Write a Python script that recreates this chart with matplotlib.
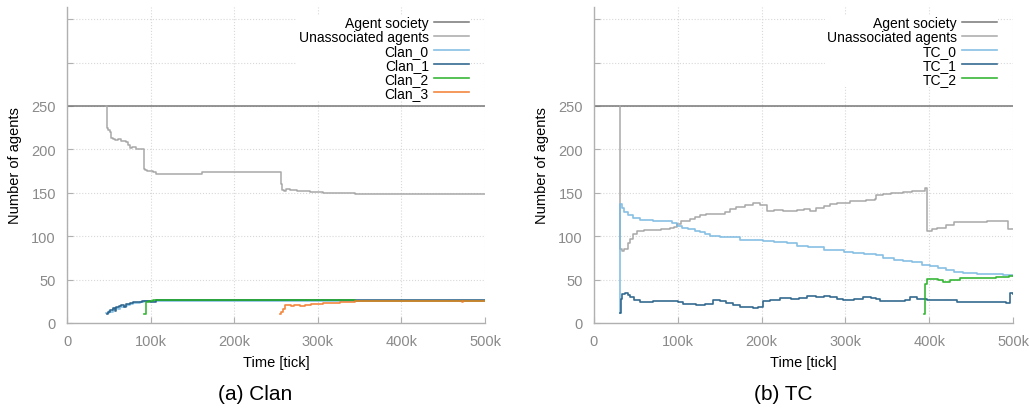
import numpy as np
import matplotlib
matplotlib.use("Agg")
import matplotlib.pyplot as plt
from matplotlib.ticker import FuncFormatter

plt.rcParams['font.family'] = ['Liberation Sans', 'DejaVu Sans']

# time in thousands of ticks, values = number of agents
society_t = [0, 500]
society_v = [250, 250]

# --- Clan run ---
clan_unassoc_t = [46.6, 47.5, 48, 49, 51.4, 53, 55, 58, 61, 64, 67, 70, 73, 75, 78, 82, 86,
                  92.5, 93, 96, 99, 103, 107, 111, 161, 255.6, 257, 259.6, 262, 266.7, 275,
                  285, 290.7, 298, 306.6, 320, 330, 344.5, 500]
clan_unassoc_v = [250, 237, 225, 222, 219.7, 213, 212, 211, 212, 210, 210, 208, 205, 202, 203,
                  201, 200, 177, 176, 175, 175.5, 174, 172, 171.7, 173.6, 160, 153, 152, 154,
                  153, 152.4, 152, 151, 150.6, 150, 150, 149.8, 149, 149]

clan0_t = [47, 50, 52, 55, 58, 61, 63, 66, 68, 72, 75, 79, 82, 87, 92, 100, 120, 500]
clan0_v = [12, 14, 13, 16, 17, 16, 18, 19, 20, 21, 22, 23, 23.5, 24.5, 25, 25.5, 25.8, 25.8]

clan1_t = [47.5, 49, 51, 55, 57, 59, 62, 65, 68, 71, 75, 79, 90, 99, 107, 115, 162, 163, 500]
clan1_v = [10, 13, 15, 17, 14, 18, 20, 21, 19, 22, 23, 24.5, 25, 24.5, 26, 26.8, 26.8, 26.3, 26.3]

clan2_t = [92.5, 94, 98, 103, 115, 120, 345, 500]
clan2_v = [10, 24, 25, 27, 26.5, 26, 25, 25]

clan3_t = [254.8, 256, 258, 260.8, 264, 268, 272, 278.7, 285, 292, 300, 306.6, 315, 326.6,
           335, 344.5, 473, 474, 500]
clan3_v = [10.4, 13, 16, 20.7, 21, 20, 21, 20, 21, 21.5, 22, 22.7, 23, 23.8, 24.5, 25, 24,
           25, 25]

# --- TC run ---
tc_unassoc_t = [30.5, 31, 33, 36, 40, 43, 47, 51, 60, 67, 80, 91, 95, 99, 104, 110, 115, 120,
                126, 134, 142, 150, 156, 162, 170, 180, 190, 198, 206, 215, 225, 242, 250,
                258, 265, 275, 282, 290, 305, 315, 325, 335, 337, 345, 355, 369, 380, 395,
                397, 403, 409, 420, 429, 449, 469, 490, 494, 500]
tc_unassoc_v = [250, 85, 83, 85, 92, 97, 103, 105.6, 107, 107, 108, 109, 111, 114, 117, 118,
                120, 122, 124, 126, 125, 126, 128, 131, 134, 136, 138, 136, 128.6, 130, 129,
                130.5, 131, 128.6, 132, 135, 137, 138, 140, 140, 142, 143, 148, 149, 150, 151,
                152, 155, 106, 108, 110, 113, 116, 116, 117, 118, 108, 108]

tc0_t = [31, 31.5, 33, 36, 40, 46.5, 55, 70, 87, 93, 99, 105, 112, 120, 126, 132, 138, 150,
         162, 174, 190, 202, 215, 230, 242, 255, 265, 274, 285, 298, 309, 322, 337, 345, 358,
         369, 380, 392, 401, 410, 420, 429, 440, 457, 470, 488, 500]
tc0_v = [12, 137, 133, 128, 124, 121, 119, 118, 117, 115, 112, 110, 108, 106, 105, 103, 100.6,
         99, 98.7, 96, 95.5, 95, 93, 92, 89, 88, 87, 84, 84, 82, 80.6, 80, 78, 74.5, 73, 71.8,
         70, 67, 65.3, 63, 61, 59, 58, 56.5, 56, 55.3, 54.5]

tc1_t = [31, 32, 34, 37, 40, 43, 48, 55, 70, 87, 100, 106, 114, 122, 132, 142, 150, 158, 166,
         174, 182, 190, 196, 202, 210, 222, 235, 245, 254, 265, 275, 282, 290, 297, 310, 321,
         330, 337, 341, 365, 371, 377, 385, 397, 425, 433, 461, 492, 496, 500]
tc1_v = [12, 28, 33, 35, 32, 30, 27, 24, 25, 25, 24, 22, 21.5, 21, 22, 26, 25, 23, 21, 19, 18,
         17, 19, 25.7, 27, 28.8, 28, 29, 31.5, 30, 31, 29.6, 28, 26.5, 28, 29.6, 29, 27.6, 25.7,
         25.7, 27, 29.6, 28, 26.9, 26.9, 23.8, 24.6, 23, 34.5, 33.4]

tc2_t = [394, 395, 397, 403, 410, 417, 425, 432, 437, 450, 469, 480, 488, 495, 500]
tc2_v = [10, 45, 50.7, 50.7, 49, 46.9, 49, 50, 51.8, 51.5, 51.4, 52.5, 53.4, 54, 54.5]

c_society = '#777777'
c_unassoc = '#a8a8a8'
c_group = ['#7ab9e2', '#1f5a84', '#22b022', '#f47a2a']

clan_groups = [(clan0_t, clan0_v), (clan1_t, clan1_v), (clan2_t, clan2_v), (clan3_t, clan3_v)]
tc_groups = [(tc0_t, tc0_v), (tc1_t, tc1_v), (tc2_t, tc2_v)]

fig = plt.figure(figsize=(10.29, 4.1), dpi=100)
ax1 = fig.add_axes([67 / 1029, 86 / 410, 418 / 1029, 316 / 410])
ax2 = fig.add_axes([594 / 1029, 86 / 410, 419 / 1029, 316 / 410])


def kfmt(x, pos):
    return '0' if x == 0 else '%dk' % round(x / 1000)


def yfmt(y, pos):
    return '' if y > 250 else '%d' % y


def draw(ax, unassoc_t, unassoc_v, groups, prefix, title, title_x):
    k = 1000
    ax.plot(np.array(society_t) * k, society_v, color=c_society, lw=1.1,
            drawstyle='steps-post', label='Agent society')
    ax.plot(np.array(unassoc_t) * k, unassoc_v, color=c_unassoc, lw=1.1,
            drawstyle='steps-post', label='Unassociated agents')
    for i, (t, v) in enumerate(groups):
        ax.plot(np.array(t) * k, v, color=c_group[i], lw=1.2, alpha=0.9,
                drawstyle='steps-post', label='%s_%d' % (prefix, i))

    ax.set_xlim(0, 500000)
    ax.set_ylim(0, 364)
    ax.set_xticks(np.arange(0, 500001, 100000))
    ax.set_yticks(np.arange(0, 351, 50))
    ax.xaxis.set_major_formatter(FuncFormatter(kfmt))
    ax.yaxis.set_major_formatter(FuncFormatter(yfmt))
    ax.grid(True, color='#d8d8d8', ls=':', lw=0.8)
    ax.set_axisbelow(True)
    for s in ['top', 'right']:
        ax.spines[s].set_visible(False)
    for s in ['left', 'bottom']:
        ax.spines[s].set_color('#b0b0b0')
        ax.spines[s].set_linewidth(1.0)
    ax.tick_params(direction='in', length=4, color='#b0b0b0', labelcolor='#8a8a8a',
                   labelsize=10.5, pad=8)
    ax.set_xlabel('Time [tick]', fontsize=10.5, labelpad=5)
    ax.set_ylabel('Number of agents', fontsize=10.5, labelpad=7)

    leg = ax.legend(loc='upper right', bbox_to_anchor=(0.972, 0.985), markerfirst=False,
                    fontsize=10, frameon=True, framealpha=1, edgecolor='none',
                    handlelength=2.5, handletextpad=0.4, labelspacing=0.0,
                    borderpad=0.1, borderaxespad=0.2, fancybox=False)
    leg.get_frame().set_linewidth(0)
    fig.text(title_x, 0.037, title, ha='center', va='center', fontsize=15)


draw(ax1, clan_unassoc_t, clan_unassoc_v, clan_groups, 'Clan', '(a) Clan', 255 / 1029)
draw(ax2, tc_unassoc_t, tc_unassoc_v, tc_groups, 'TC', '(b) TC', 783 / 1029)

fig.savefig('out.png', dpi=100)
